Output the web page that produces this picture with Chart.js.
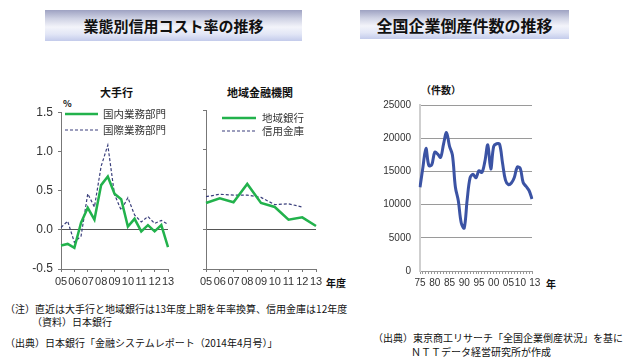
<!DOCTYPE html>
<html><head><meta charset="utf-8">
<script src="https://cdn.jsdelivr.net/npm/chart.js@4/dist/chart.umd.min.js"></script>
<style>
body{margin:0;width:629px;height:360px;background:#fff;position:relative;overflow:hidden;font-family:"Noto Sans CJK JP","Liberation Sans",sans-serif;color:#111;}
.abs{position:absolute;white-space:nowrap;line-height:1;}
.banner{position:absolute;background:linear-gradient(to bottom,#9ea2c2 0%,#cfd2e4 28%,#f3f4fa 55%,#e2e6f6 78%,#c3cbeb 100%);display:flex;align-items:center;justify-content:center;font-weight:bold;color:#111;}
canvas{position:absolute;}
.fn{font-size:10px;color:#111;}
</style></head>
<body>
<div class="banner" style="left:45px;top:10px;width:257px;height:31px;font-size:15px;">業態別信用コスト率の推移</div>
<div class="banner" style="left:360px;top:10px;width:209px;height:29px;font-size:16px;">全国企業倒産件数の推移</div>

<div class="abs" style="left:100px;top:87px;font-size:11px;font-weight:bold;">大手行</div>
<div class="abs" style="left:227px;top:87px;font-size:11px;font-weight:bold;">地域金融機関</div>
<div class="abs" style="left:63px;top:99px;font-size:9px;font-weight:bold;">%</div>
<div class="abs" style="left:326px;top:278px;font-size:10px;font-weight:bold;">年度</div>
<div class="abs" style="left:421px;top:85px;font-size:10px;font-weight:bold;">（件数）</div>
<div class="abs" style="left:546px;top:279px;font-size:10px;font-weight:bold;">年</div>

<canvas id="c1" width="180" height="195" style="left:0;top:100px;"></canvas>
<canvas id="c2" width="170" height="195" style="left:180px;top:100px;"></canvas>
<canvas id="c3" width="260" height="205" style="left:350px;top:90px;"></canvas>

<div class="abs fn" style="left:5px;top:304px;">（注）直近は大手行と地域銀行は13年度上期を年率換算、信用金庫は12年度</div>
<div class="abs fn" style="left:32px;top:317px;">（資料）日本銀行</div>
<div class="abs fn" style="left:5px;top:338px;">（出典）日本銀行「金融システムレポート（2014年4月号）」</div>
<div class="abs fn" style="left:373px;top:333px;">（出典）東京商工リサーチ「全国企業倒産状況」を基に</div>
<div class="abs fn" style="left:411px;top:347px;">ＮＴＴデータ経営研究所が作成</div>

<script>
// ---- data ----
const halfYearLabels = ['05','','06','','07','','08','','09','','10','','11','','12','','13'];
const majorDomestic = [-0.20,-0.18,-0.23,0.09,0.28,0.13,0.57,0.68,0.46,0.39,0.04,0.14,-0.02,0.06,-0.02,0.06,-0.22];
const majorInternational = [0.03,0.11,-0.16,-0.08,0.46,0.29,0.81,1.08,0.45,0.25,0.41,0.19,0.10,0.17,0.08,0.12,0.07];

const fiscalYearLabels = ['05','06','07','08','09','10','11','12','13'];
const regionalBanks = [0.33,0.39,0.34,0.57,0.33,0.28,0.12,0.15,0.04];
const shinkinBanks = [0.41,0.44,0.43,0.43,0.40,0.31,0.32,0.28,null];

const bankruptcyYears = ['75','76','77','78','79','80','81','82','83','84','85','86','87','88','89','90','91','92','93','94','95','96','97','98','99','00','01','02','03','04','05','06','07','08','09','10','11','12','13'];
const bankruptcyCounts = [12606,15641,18471,15875,16030,17884,17610,17122,19155,20841,18812,17476,12655,10573,7234,6468,10723,14069,14564,14061,15108,14834,16464,18988,15352,18769,19164,19087,16255,13679,12998,13245,14091,15646,15480,13321,12734,12124,10855];
const shownYearLabels = ['75','80','85','90','95','00','05','10','13'];

// ---- styles ----
const GREEN = '#22b24c', NAVY = '#3a3f7c', BLUE = '#3b53a4';
const numFont = {family:'"Liberation Sans", Arial, sans-serif'};

const inlineLegend = {
  id:'inlineLegend',
  afterDatasetsDraw(chart, args, opts){
    if(!opts.items) return;
    const ctx = chart.ctx;
    chart.data.datasets.forEach((ds,i)=>{
      const it = opts.items[i];
      ctx.save();
      ctx.strokeStyle = ds.borderColor; ctx.lineWidth = ds.borderWidth;
      ctx.setLineDash(ds.borderDash || []);
      ctx.beginPath(); ctx.moveTo(it.x0,it.y); ctx.lineTo(it.x1,it.y); ctx.stroke();
      ctx.setLineDash([]);
      ctx.fillStyle = '#333'; ctx.font = opts.font; ctx.textBaseline = 'middle';
      ctx.fillText(ds.label, it.tx, it.y+0.5);
      ctx.restore();
    });
  }
};
Chart.register(inlineLegend);

function rateYAxis(showLabels, width){
  return {
    min:-0.5, max:1.5,
    afterFit(s){ s.width = width; },
    ticks:{display:showLabels, stepSize:0.5, color:'#333', padding:5, font:{...numFont,size:12},
      callback:v=>v.toFixed(1)},
    grid:{drawOnChartArea:true, tickLength:3, tickColor:'#777',
      color:c=> (c.tick && c.tick.value===0) ? '#555' : 'rgba(0,0,0,0)', lineWidth:1},
    border:{color:'#777', width:1}
  };
}
function xAxisCat(height, showTick){
  return {
    afterFit(s){ s.height = height; },
    ticks:{autoSkip:false, maxRotation:0, color:'#333', padding:3, font:{...numFont,size:11},
      callback(v){ return this.getLabelForValue(v); }},
    grid:{drawOnChartArea:false, tickLength:3, tickColor: c => showTick(c.index) ? '#777' : 'rgba(0,0,0,0)'},
    border:{color:'#777', width:1}
  };
}

new Chart(document.getElementById('c1'), {
  type:'line',
  data:{labels:halfYearLabels, datasets:[
    {label:'国内業務部門', data:majorDomestic, borderColor:GREEN, borderWidth:2.5, pointRadius:0, tension:0},
    {label:'国際業務部門', data:majorInternational, borderColor:NAVY, borderWidth:1.2, borderDash:[3,2], pointRadius:0, tension:0}
  ]},
  options:{responsive:false, animation:false, events:[],
    layout:{padding:{left:0,top:10,right:12,bottom:0}},
    scales:{x:xAxisCat(26, i=>i%2===0), y:rateYAxis(true,61)},
    plugins:{legend:{display:false}, tooltip:{enabled:false},
      inlineLegend:{font:'10.5px "Noto Sans CJK JP"', items:[{x0:65,x1:98,y:14,tx:103},{x0:65,x1:98,y:30,tx:103}]}}
  }
});

new Chart(document.getElementById('c2'), {
  type:'line',
  data:{labels:fiscalYearLabels, datasets:[
    {label:'地域銀行', data:regionalBanks, borderColor:GREEN, borderWidth:2.5, pointRadius:0, tension:0},
    {label:'信用金庫', data:shinkinBanks, borderColor:NAVY, borderWidth:1.2, borderDash:[3,2], pointRadius:0, tension:0}
  ]},
  options:{responsive:false, animation:false, events:[],
    layout:{padding:{left:0,top:10,right:34,bottom:0}},
    scales:{x:xAxisCat(26, ()=>true), y:rateYAxis(false,26)},
    plugins:{legend:{display:false}, tooltip:{enabled:false},
      inlineLegend:{font:'10.5px "Noto Sans CJK JP"', items:[{x0:42,x1:76,y:18,tx:82},{x0:42,x1:76,y:31,tx:82}]}}
  }
});

new Chart(document.getElementById('c3'), {
  type:'line',
  data:{labels:bankruptcyYears, datasets:[
    {label:'倒産件数', data:bankruptcyCounts, borderColor:BLUE, borderWidth:3, pointRadius:0, tension:0.35}
  ]},
  options:{responsive:false, animation:false, events:[],
    layout:{padding:{left:0,top:11.7,right:78,bottom:0}},
    scales:{
      x:{afterFit(s){ s.height = 24; },
        ticks:{autoSkip:false, maxRotation:0, color:'#333', padding:3, font:{...numFont,size:10},
          callback(v){
            const l=this.getLabelForValue(v);
            if(!shownYearLabels.includes(l)) return '';
            if(l==='10') return l+'  ';
            if(l==='13') return '  '+l;
            return l;
          }},
        grid:{drawOnChartArea:false, tickLength:3, tickColor:'#999'},
        border:{color:'#999', width:1}},
      y:{min:0, max:25000, afterFit(s){ s.width = 70; },
        ticks:{stepSize:5000, color:'#333', padding:9, font:{...numFont,size:10}, callback:v=>String(v)},
        grid:{drawTicks:false, color:c=> (c.tick && c.tick.value===0) ? 'rgba(0,0,0,0)' : '#9a9a9a', lineWidth:1},
        border:{color:'#cfcfcf', width:2}}
    },
    plugins:{legend:{display:false}, tooltip:{enabled:false}}
  }
});
</script>
</body></html>
